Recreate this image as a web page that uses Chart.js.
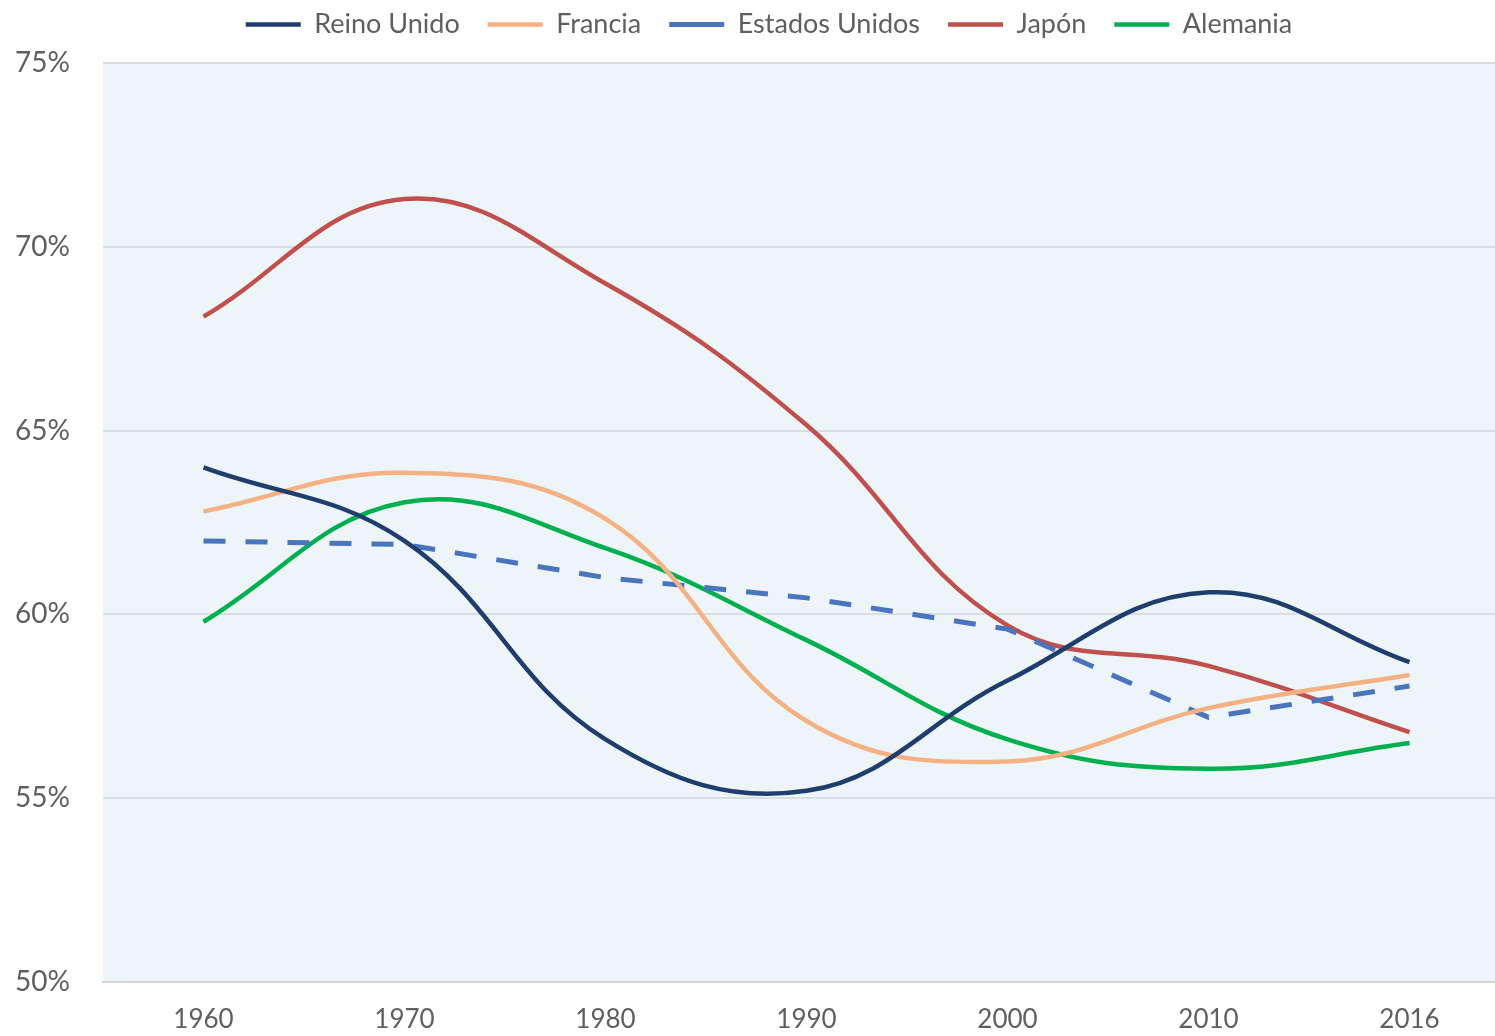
<!DOCTYPE html>
<html>
<head>
<meta charset="utf-8">
<script src="https://cdn.jsdelivr.net/npm/chart.js@4/dist/chart.umd.min.js"></script>
<style>
  html, body { margin: 0; padding: 0; background: #ffffff; overflow: hidden; }
  #wrap { width: 1510px; height: 1036px; position: relative; }
</style>
</head>
<body>
<div id="wrap"><canvas id="chart"></canvas></div>
<script>
const years = ['1960', '1970', '1980', '1990', '2000', '2010', '2016'];
const reinoUnido = [64.0, 62.0, 56.6, 55.2, 58.2, 60.6, 58.7];
const francia = [62.8, 63.85, 62.6, 57.1, 56.0, 57.45, 58.35];
const estadosUnidos = [62.0, 61.9, 61.0, 60.45, 59.6, 57.2, 58.05];
const japon = [68.1, 71.3, 69.0, 65.15, 59.7, 58.6, 56.8];
const alemania = [59.8, 63.05, 61.8, 59.3, 56.6, 55.8, 56.5];
const yTicks = [50, 55, 60, 65, 70, 75];

const textColor = '#5f5f5f';
const fontFamily = 'Lato, "Open Sans", sans-serif';

// light blue plot background
const plotBackground = {
    id: 'plotBackground',
    beforeDraw(chart) {
        const { ctx, chartArea } = chart;
        ctx.save();
        ctx.fillStyle = '#eef5f8';
        ctx.fillRect(chartArea.left, chartArea.top, chartArea.right - chartArea.left, chartArea.bottom - chartArea.top);
        ctx.restore();
    }
};

// legend box: fixed height, items nudged up/right
const legendPlace = {
    id: 'legendPlace',
    beforeInit(chart) {
        const fit = chart.legend.fit;
        chart.legend.fit = function () {
            fit.bind(chart.legend)();
            this.height = 63;
        };
    },
    afterLayout(chart) {
        const lg = chart.legend;
        lg.top -= 17;
        lg.bottom -= 17;
        lg.left += 14;
        lg.right += 14;
    }
};

function line(label, data, color, dashed) {
    return {
        label: label,
        data: data,
        borderColor: color,
        backgroundColor: color,
        borderWidth: dashed ? 5 : 4.5,
        borderDash: dashed ? [22, 20] : [],
        tension: dashed ? 0 : 0.4,
        pointRadius: 0,
        fill: false
    };
}

new Chart(document.getElementById('chart'), {
    type: 'line',
    data: {
        labels: years,
        datasets: [
            line('Reino Unido', reinoUnido, '#1f3d6d', false),
            line('Francia', francia, '#f4b183', false),
            line('Estados Unidos', estadosUnidos, '#4a74bd', true),
            line('Japón', japon, '#c0504d', false),
            line('Alemania', alemania, '#00b050', false)
        ]
    },
    options: {
        responsive: true,
        maintainAspectRatio: false,
        animation: false,
        layout: { padding: { top: 0, right: 0, bottom: 0, left: 0 } },
        plugins: {
            legend: {
                display: true,
                position: 'top',
                labels: {
                    usePointStyle: true,
                    pointStyle: 'line',
                    pointStyleWidth: 55,
                    boxHeight: 4,
                    padding: 28,
                    color: textColor,
                    font: { family: fontFamily, size: 27 }
                }
            },
            tooltip: { enabled: false }
        },
        scales: {
            x: {
                type: 'category',
                offset: true,
                afterFit(scale) { scale.height = 54; },
                grid: { display: false, drawTicks: false },
                border: { display: true, color: '#d4d4d4', width: 2 },
                ticks: {
                    color: textColor,
                    padding: 22,
                    maxRotation: 0,
                    font: { family: fontFamily, size: 26 }
                }
            },
            y: {
                min: 50,
                max: 75,
                afterFit(scale) { scale.width = 103; },
                afterBuildTicks(scale) { scale.ticks = yTicks.map(v => ({ value: v })); },
                grid: { color: '#d9dee0', lineWidth: 2, drawTicks: false },
                border: { display: false },
                ticks: {
                    color: textColor,
                    padding: 33,
                    font: { family: fontFamily, size: 28 },
                    callback: v => v + '%'
                }
            }
        }
    },
    plugins: [plotBackground, legendPlace]
});
</script>
</body>
</html>
